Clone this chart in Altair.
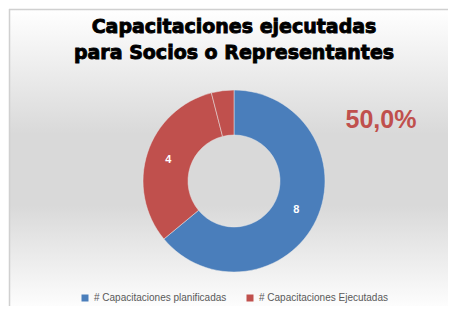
import altair as alt
import pandas as pd

categories = ["# Capacitaciones planificadas", "# Capacitaciones Ejecutadas", "% Ejecución"]
values = [8, 4, 0.5]
labels = ["8", "4", ""]
colors = ["#4a7ebb", "#c0504d", "#c0504d"]
title_lines = ["Capacitaciones  ejecutadas", "para  Socios  o  Representantes"]
pct_text = "50,0%"

W, H = 440, 298
CX, CY = 225, 172

df = pd.DataFrame({"cat": categories, "val": values, "lab": labels, "idx": list(range(len(values)))})

bg = alt.Chart(pd.DataFrame({"a": [0]})).mark_rect(
    color=alt.Gradient(
        gradient="linear",
        stops=[
            alt.GradientStop(color="#ffffff", offset=0),
            alt.GradientStop(color="#d9d9d9", offset=0.42),
            alt.GradientStop(color="#d9d9d9", offset=0.66),
            alt.GradientStop(color="#fdfdfd", offset=1),
        ],
        x1=0, x2=0, y1=0, y2=1,
    ),
).encode(x=alt.value(0), x2=alt.value(W), y=alt.value(0), y2=alt.value(H))

border_top = alt.Chart(pd.DataFrame({"a": [0]})).mark_rule(color="#d0d0d0", strokeWidth=1.5).encode(
    x=alt.value(0), x2=alt.value(W), y=alt.value(0.5)
)
border_left = alt.Chart(pd.DataFrame({"a": [0]})).mark_rule(color="#d0d0d0", strokeWidth=1.5).encode(
    x=alt.value(0.5), y=alt.value(0), y2=alt.value(H)
)

base = alt.Chart(df)

arc = base.mark_arc(innerRadius=46, outerRadius=91, stroke="#e8e8e8", strokeWidth=0.5).encode(
    theta=alt.Theta("val:Q", stack=True),
    color=alt.Color(
        "cat:N",
        scale=alt.Scale(domain=categories, range=colors),
        legend=alt.Legend(
            values=categories[:2], orient="none", direction="horizontal",
            legendX=71, legendY=284, title=None, symbolType="square",
            symbolSize=49, labelFont="Liberation Sans", labelFontSize=10,
            labelColor="#595959", columnPadding=18, symbolStrokeWidth=0,
        ),
    ),
    order=alt.Order("idx:Q"),
    x=alt.value(CX), y=alt.value(CY),
)

txt = base.mark_text(radius=69, font="Liberation Sans", fontSize=11, fontWeight="bold", color="white").encode(
    theta=alt.Theta("val:Q", stack=True),
    order=alt.Order("idx:Q"),
    text="lab:N",
    x=alt.value(CX), y=alt.value(CY),
)

title_layers = []
for line, ypos in zip(title_lines, [18, 44]):
    title_layers.append(
        alt.Chart(pd.DataFrame({"t": [line]})).mark_text(
            font="DejaVu Sans", fontWeight="bold", fontSize=19, color="black",
            stroke="black", strokeWidth=0.9, baseline="middle", align="center"
        ).encode(text="t:N", x=alt.value(225), y=alt.value(ypos))
    )

pct = alt.Chart(pd.DataFrame({"t": [pct_text]})).mark_text(
    font="Liberation Sans", fontWeight="bold", fontSize=25, color="#c0504d", baseline="middle", align="center"
).encode(text="t:N", x=alt.value(372), y=alt.value(111))

chart = alt.layer(bg, border_top, border_left, arc, txt, *title_layers, pct).properties(
    width=W, height=H, autosize=alt.AutoSizeParams(type="fit", contains="padding"), padding=0
).configure_view(stroke=None)

chart.save("out.html", embed_options={"renderer": "svg", "actions": False})
